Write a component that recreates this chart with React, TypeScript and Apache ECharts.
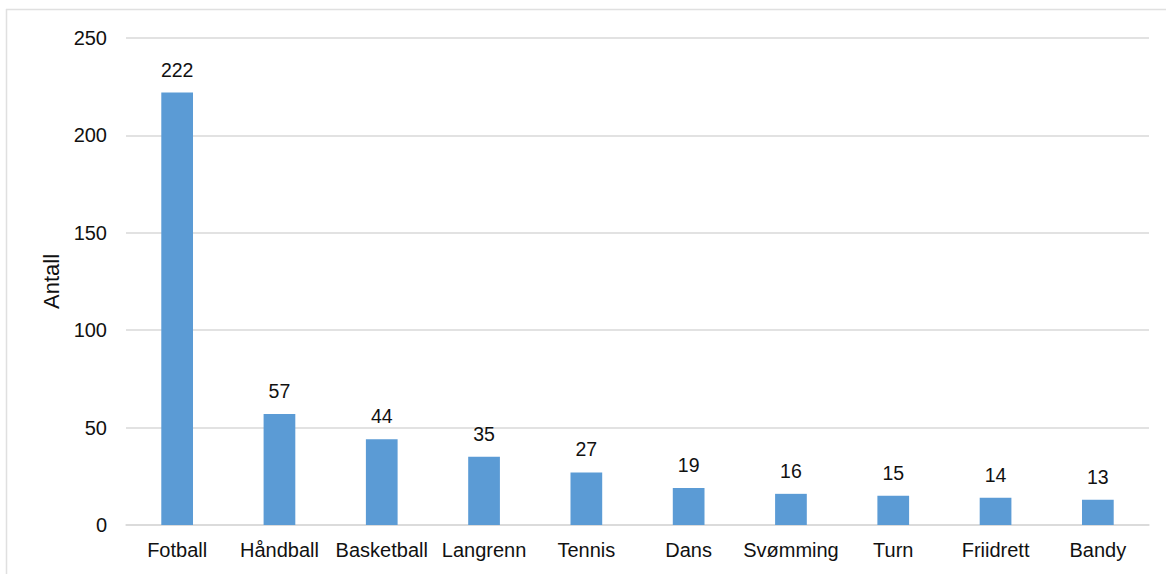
import React, { useEffect, useRef } from "react";
import * as echarts from "echarts";

// Number of participants per sport
const categories = [
  "Fotball",
  "Håndball",
  "Basketball",
  "Langrenn",
  "Tennis",
  "Dans",
  "Svømming",
  "Turn",
  "Friidrett",
  "Bandy",
];
const counts = [222, 57, 44, 35, 27, 19, 16, 15, 14, 13];
const yTicks = { min: 0, max: 250, interval: 50 };

const FONT = "'Liberation Sans', Arial, sans-serif";
const TEXT = "#111111";
const GRID = "#d9d9d9";

export default function App() {
  const ref = useRef<HTMLDivElement>(null);

  useEffect(() => {
    document.body.style.margin = "0";
    if (!ref.current) return;
    const chart = echarts.init(ref.current, undefined, { renderer: "svg" });
    chart.setOption({
      animation: false,
      backgroundColor: "#ffffff",
      grid: { left: 126, right: 17, top: 38, bottom: 49 },
      graphic: [
        {
          type: "line",
          shape: { x1: 6, y1: 9.5, x2: 1166, y2: 9.5 },
          style: { stroke: "#e0e0e0", lineWidth: 1.5 },
        },
        {
          type: "line",
          shape: { x1: 6.5, y1: 9, x2: 6.5, y2: 574 },
          style: { stroke: "#e0e0e0", lineWidth: 1.5 },
        },
      ],
      xAxis: {
        type: "category",
        data: categories,
        axisTick: { show: false },
        axisLine: { lineStyle: { color: GRID, width: 1.5 } },
        axisLabel: {
          color: TEXT,
          fontFamily: FONT,
          fontSize: 20,
          margin: 15,
          interval: 0,
        },
      },
      yAxis: {
        type: "value",
        min: yTicks.min,
        max: yTicks.max,
        interval: yTicks.interval,
        name: "Antall",
        nameLocation: "middle",
        nameGap: 64,
        nameTextStyle: { color: TEXT, fontFamily: FONT, fontSize: 22 },
        axisLine: { show: false },
        axisTick: { show: false },
        axisLabel: { color: TEXT, fontFamily: FONT, fontSize: 20, margin: 19 },
        splitLine: { lineStyle: { color: GRID, width: 1.5 } },
      },
      series: [
        {
          type: "bar",
          data: counts,
          barWidth: "31%",
          itemStyle: { color: "#5b9bd5" },
          label: {
            show: true,
            position: "top",
            distance: 13,
            color: TEXT,
            fontFamily: FONT,
            fontSize: 19.5,
          },
        },
      ],
    });
    return () => chart.dispose();
  }, []);

  return <div ref={ref} style={{ width: 1166, height: 574 }} />;
}
